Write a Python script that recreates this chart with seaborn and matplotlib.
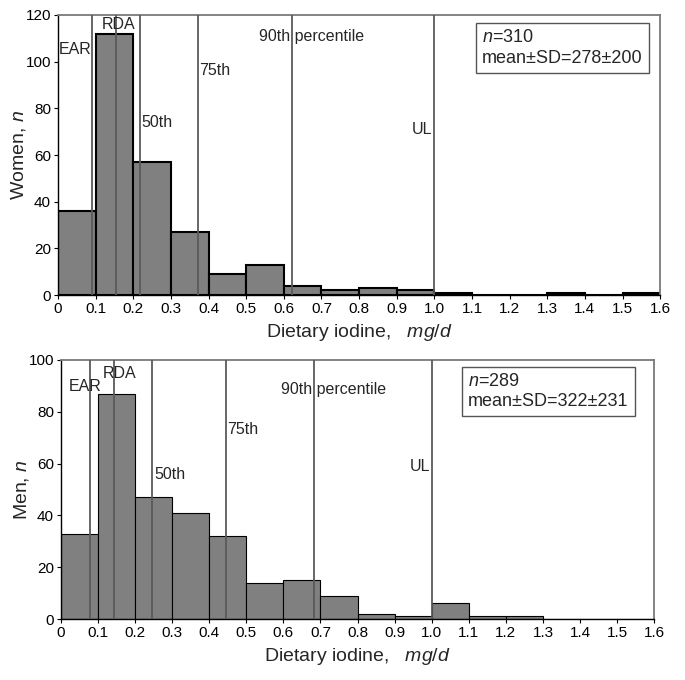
import matplotlib as mpl
import matplotlib.pyplot as plt
import numpy as np
import pandas as pd
import seaborn as sns

# bin left edges, mg/d
bin_left = [0.0, 0.1, 0.2, 0.3, 0.4, 0.5, 0.6, 0.7, 0.8, 0.9, 1.0, 1.1, 1.2, 1.3, 1.4, 1.5]
women_counts = [36, 112, 57, 27, 9, 13, 4, 2, 3, 2, 1, 0, 0, 1, 0, 1]
men_counts = [33, 87, 47, 41, 32, 14, 15, 9, 2, 1, 6, 1, 1, 0, 0, 0]

ref_names = ["EAR", "RDA", "50th", "75th", "90th percentile", "UL"]
women_refs = [0.089, 0.153, 0.217, 0.373, 0.621, 1.0]
men_refs = [0.078, 0.143, 0.246, 0.444, 0.683, 1.0]

women_stats = ["310", "278±200"]
men_stats = ["289", "322±231"]

sns.set_style("white")
plt.rcParams['font.family'] = ['Liberation Sans', 'DejaVu Sans']
plt.rcParams['mathtext.fontset'] = 'custom'
plt.rcParams['mathtext.rm'] = 'Liberation Sans'
plt.rcParams['mathtext.it'] = 'Liberation Sans:italic'

edges = [round(0.1 * i, 1) for i in range(17)]


def panel(ax, counts, refs, label_pos, stats, box_xy, ylab, ymax, edge_lw):
    df = pd.DataFrame({"x": np.array(bin_left) + 0.05, "n": counts})
    sns.histplot(data=df, x="x", weights="n", bins=edges, ax=ax,
                 color="#808080", alpha=1, edgecolor="black", linewidth=edge_lw)
    for xv in refs:
        ax.axvline(xv, color="#5a5a5a", lw=1.3, zorder=3)
    for name, (tx, ty, ha) in zip(ref_names, label_pos):
        ax.text(tx, ty, name, ha=ha, va="center", fontsize=11.5, zorder=4)
    ax.text(box_xy[0], box_xy[1], "$\\it{n}$=" + stats[0] + "\nmean±SD=" + stats[1],
            transform=ax.transAxes, fontsize=13, va="center", ha="left",
            linespacing=1.25,
            bbox=dict(boxstyle="square,pad=0.35", fc="white", ec="#555555", lw=1))
    ax.set_xlim(0, 1.6)
    ax.set_ylim(0, ymax)
    ax.set_xticks(edges)
    ax.set_xticklabels(["0"] + [f"{v:.1f}" for v in edges[1:]])
    ax.set_yticks(np.arange(0, ymax + 1, 20))
    ax.tick_params(axis="both", labelsize=11, length=3, direction="out",
                   bottom=True, left=True, pad=2, colors="black")
    ax.set_xlabel("Dietary iodine,   $\\it{mg/d}$", fontsize=14, labelpad=4)
    ax.set_ylabel(ylab, fontsize=14, labelpad=-2)
    for s in ["left", "bottom"]:
        ax.spines[s].set_color("black")
        ax.spines[s].set_linewidth(1)
    for s in ["top", "right"]:
        ax.spines[s].set_color("#7a7a7a")
        ax.spines[s].set_linewidth(1.3)
        ax.spines[s].set_visible(True)


fig = plt.figure(figsize=(6.85, 6.8), dpi=100)
ax1 = fig.add_axes([0.0847, 0.566, 0.879, 0.412])
ax2 = fig.add_axes([0.089, 0.0897, 0.866, 0.381])

women_labels = [(0.003, 105, "left"), (0.162, 115.7, "center"), (0.222, 74, "left"),
                (0.376, 96, "left"), (0.534, 110.7, "left"), (0.995, 71, "right")]
men_labels = [(0.022, 89.7, "left"), (0.159, 94.6, "center"), (0.251, 55.6, "left"),
              (0.447, 73, "left"), (0.594, 88.4, "left"), (0.995, 58.8, "right")]

panel(ax1, women_counts, women_refs, women_labels, women_stats, (0.704, 0.882),
      "Women, $\\it{n}$", 120, 1.5)
panel(ax2, men_counts, men_refs, men_labels, men_stats, (0.686, 0.878),
      "Men, $\\it{n}$", 100, 0.8)

fig.savefig("out.png", dpi=100)
